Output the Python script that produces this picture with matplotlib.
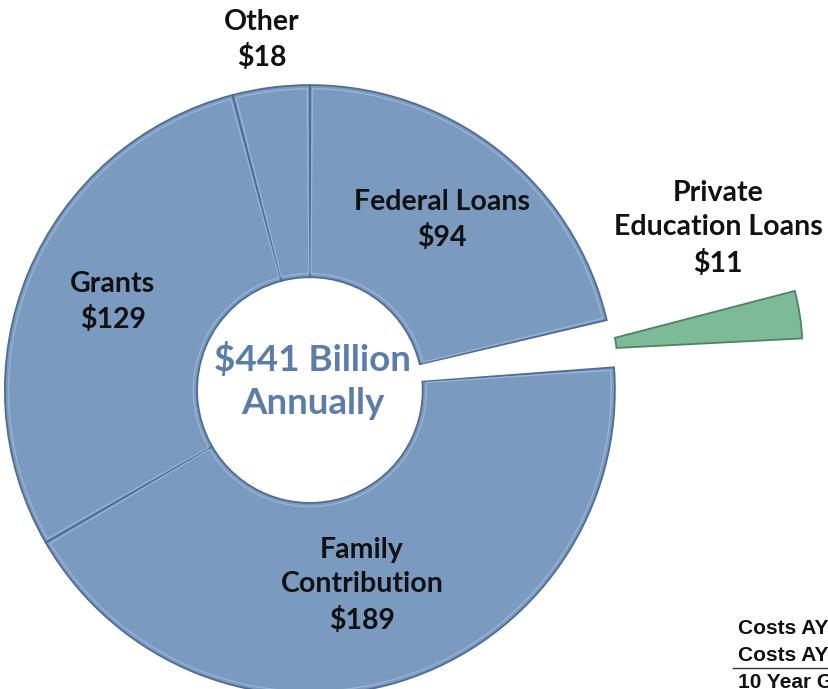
import numpy as np
import matplotlib.pyplot as plt
from matplotlib.patches import Wedge

# funding sources, $ billions, clockwise from 12 o'clock
labels = ["Federal Loans", "Private\nEducation Loans", "Family\nContribution", "Grants", "Other"]
values = [94, 11, 189, 129, 18]
total_label = "$441 Billion\nAnnually"
table_rows = ["Costs AY 2001-02", "Costs AY 2011-12", "10 Year Growth"]

BLUE = "#7a9ac0"
EDGE = "#4e6c94"
GREEN = "#7dba98"
GEDGE = "#4e8462"

plt.rcParams['font.family'] = ['Lato', 'DejaVu Sans']

fig = plt.figure(figsize=(8.29, 6.89), dpi=100)
ax = fig.add_axes([0, 0, 1, 1])

R = 1.0
hole = 0.37
colors = [BLUE, "none", BLUE, BLUE, BLUE]
wedges, _ = ax.pie(values, radius=R, startangle=90, counterclock=False,
                   colors=colors,
                   wedgeprops=dict(width=R - hole, edgecolor=EDGE, linewidth=1.3))
wedges[1].set_visible(False)

ax.set_xlim(-1.016, 1.702)
ax.set_ylim(-0.980, 1.279)
ax.set_aspect('equal')
ax.axis('off')

# inner highlight for a bit of bevel
for i, w in enumerate(wedges):
    if i == 1:
        continue
    ax.add_patch(Wedge((0, 0), R - 0.012, w.theta1 + 0.5, w.theta2 - 0.5,
                       width=R - hole - 0.024, fill=False,
                       edgecolor="#a6bfdc", linewidth=1.0, alpha=0.7))

# exploded private loans sliver
pw = wedges[1]
mid = np.deg2rad((pw.theta1 + pw.theta2) / 2)
span = (pw.theta2 - pw.theta1) * 1.3
half = span / 2
c = 0.85 * np.array([np.cos(mid), np.sin(mid)])
ax.add_patch(Wedge(tuple(c), 0.775, np.rad2deg(mid) - half, np.rad2deg(mid) + half,
                   width=0.61, facecolor=GREEN, edgecolor=GEDGE, linewidth=1.3))

# labels (pixel positions converted to data units)
def px(x, y):
    return (x - 310) / 305, (390 - y) / 305

lab_txt = [f"{l}\n${v}" for l, v in zip(labels, values)]
lab_pos = [px(442, 220), px(718, 228), px(362, 585), px(113, 302), px(262, 40)]
for t, p in zip(lab_txt, lab_pos):
    ax.text(p[0], p[1], t, ha='center', va='center', fontsize=20.5,
            fontweight='bold', color='#111111', linespacing=1.42)

ax.text(*px(313, 381), total_label, ha='center', va='center', fontsize=26.5,
        fontweight='bold', color='#5a7dac', linespacing=1.38)

# partial table at bottom right (runs off the edge like the source slide)
for i, row in enumerate(table_rows):
    x, y = px(738, 628 + i * 27)
    ax.text(x, y, row, ha='left', va='center', fontsize=15,
            fontweight='bold', family='Liberation Sans', color='#111111',
            clip_on=True)
x0, y0 = px(733, 668)
ax.plot([x0, 1.75], [y0, y0], color='#333333', linewidth=1.0)

fig.savefig("out.png", dpi=100)
